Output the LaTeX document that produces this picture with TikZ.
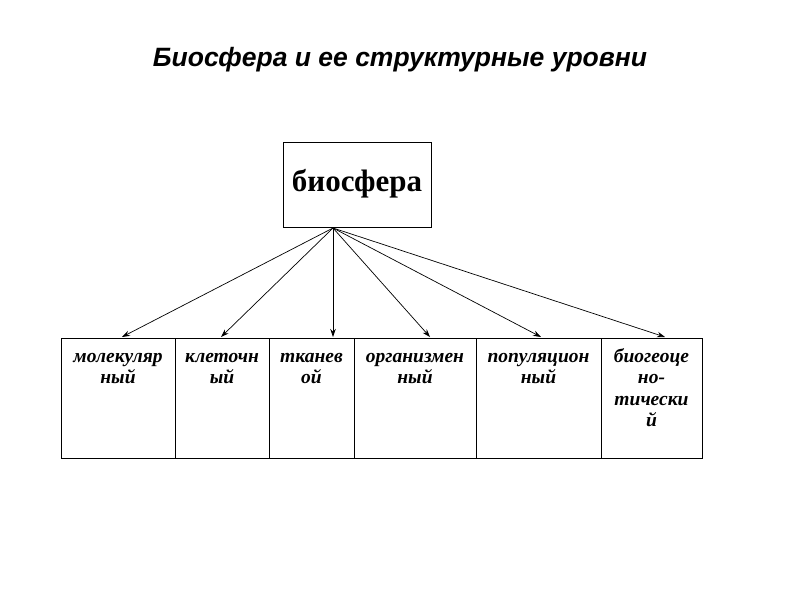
\documentclass[tikz,border=0pt]{standalone}
\usepackage{fontspec}
\setmainfont{Liberation Serif}
\newfontfamily\titlefont{Liberation Sans}
\usetikzlibrary{arrows.meta}
\begin{document}
\begin{tikzpicture}[x=1pt,y=-1pt,
  cell/.style={draw,line width=0.9pt},
  lbl/.style={anchor=base,align=center,font=\fontsize{19.5}{21.5}\selectfont\bfseries\itshape,inner sep=0pt},
  arr/.style={-{Stealth[length=8pt,width=5.5pt]},line width=0.7pt}]
\useasboundingbox (0,0) rectangle (800,600);
\node[font=\titlefont\fontsize{26.5}{30}\selectfont\bfseries\itshape] (title) at (400,60) {Биосфера и ее структурные уровни};
\draw[cell] (283,142) rectangle (431,227);
\node[font=\fontsize{31}{34}\selectfont\bfseries] (bio) at (357,184) {биосфера};
\coordinate (src) at (333,228);
\draw[cell] (61,338) rectangle (702,458);
\foreach \x in {175,269,354,476,601} \draw[cell] (\x,338) -- (\x,458);
\coordinate (t1) at (122,337);
\coordinate (t2) at (221,337);
\coordinate (t3) at (333,337);
\coordinate (t4) at (430,337);
\coordinate (t5) at (541,337);
\coordinate (t6) at (665,337);
\foreach \t in {t1,t2,t3,t4,t5,t6} \draw[arr] (src) -- (\t);
\node[lbl] (l1) at (118,383.5) {молекуляр\\ный};
\node[lbl] (l2) at (222,383.5) {клеточн\\ый};
\node[lbl] (l3) at (311.5,383.5) {тканев\\ой};
\node[lbl] (l4) at (415,383.5) {организмен\\ный};
\node[lbl] (l5) at (538.5,383.5) {популяцион\\ный};
\node[lbl] (l6) at (651.5,426.5) {биогеоце\\но-\\тически\\й};
\end{tikzpicture}
\end{document}
